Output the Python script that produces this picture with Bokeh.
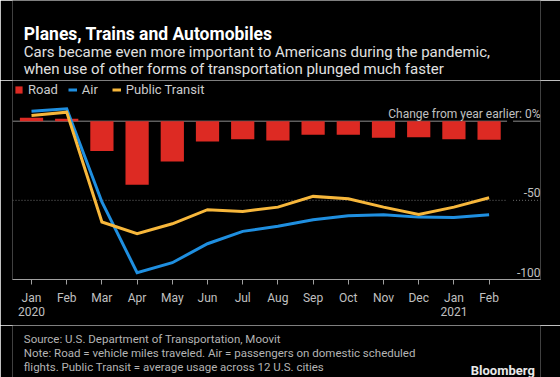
from bokeh.plotting import figure
from bokeh.layouts import column
from bokeh.models import Range1d, FixedTicker, Label, Legend, LegendItem, ColumnDataSource
from bokeh.embed import file_html
from bokeh.resources import INLINE

# ---- data ----
months = ["Jan", "Feb", "Mar", "Apr", "May", "Jun", "Jul", "Aug", "Sep", "Oct", "Nov", "Dec", "Jan", "Feb"]
year_labels = {0: "2020", 12: "2021"}
road = [2.1, 1.5, -18.9, -40.2, -25.4, -12.8, -11.4, -12.2, -8.6, -8.6, -10.5, -10.1, -11.4, -11.8]
air = [6.3, 7.8, -51.0, -95.7, -89.4, -77.4, -69.6, -66.4, -62.2, -59.7, -59.1, -60.6, -60.8, -59.1]
transit = [3.6, 5.7, -63.7, -71.1, -64.8, -55.9, -57.0, -54.3, -47.5, -49.0, -54.3, -58.9, -54.3, -48.4]
y_ticks = [0, -50, -100]
y_tick_text = {0: "Change from year earlier: 0%", -50: "-50", -100: "-100"}

# ---- styles ----
FONT = "Roboto"
RED = "#dd2a23"
BLUE = "#1f8fe0"
YELLOW = "#f7b73b"
BG = "#000000"
W = 560
TOP_H = 80      # header strip
MAIN_H = 245    # chart strip (canvas y 80..325)
BOT_H = 52      # footer strip (canvas y 325..377)

idx = list(range(len(months)))
src = ColumnDataSource(dict(x=idx, road=road, air=air, transit=transit))


def strip(h):
    f = figure(width=W, height=h, x_range=Range1d(0, W), y_range=Range1d(h, 0),
               output_backend="svg", toolbar_location=None, title=None, min_border=0,
               x_axis_location=None, y_axis_location=None,
               background_fill_color=BG, border_fill_color=BG, outline_line_color=None)
    f.grid.visible = False
    return f


def txt(fig, y0, text, px, py, size, color, style="normal", align="left"):
    fig.add_layout(Label(x=px, y=py - y0, text=text, text_align=align, text_baseline="alphabetic",
                         text_font=FONT, text_font_size=size, text_color=color,
                         text_font_style=style))


# ---- header ----
top = strip(TOP_H)
txt(top, 0, "Planes, Trains and Automobiles", 12, 33.3, "17.5px", "#ffffff", "bold")
txt(top, 0, "Cars became even more important to Americans during the pandemic,", 12, 51.7, "15px", "#e0e0e0")
txt(top, 0, "when use of other forms of transportation plunged much faster", 12, 68.3, "15px", "#e0e0e0")

# ---- main chart ----
X0, X1 = -0.54, 14.46
p = figure(width=W, height=MAIN_H, x_range=Range1d(X0, X1), y_range=Range1d(-100, 25.7),
           output_backend="svg", toolbar_location=None, title=None,
           min_border_left=12, min_border_right=20, min_border_top=0, min_border_bottom=46,
           background_fill_color=BG, border_fill_color=BG, outline_line_color=None,
           y_axis_location=None)
p.grid.visible = False

GAP0, GAP1 = 13.51, 13.68
p.segment(x0=[X0, GAP1], x1=[GAP0, X1], y0=[0, 0], y1=[0, 0], line_color="#8c8c8c", line_width=1)
p.segment(x0=[X0, GAP1], x1=[GAP0, X1], y0=[-50, -50], y1=[-50, -50], line_color="#6e6e6e",
          line_width=1, line_dash="1 2")

bars = p.vbar(x="x", top="road", bottom=0, width=0.66, source=src, fill_color=RED, line_color=None)
air_r = p.line("x", "air", source=src, line_color=BLUE, line_width=3, line_join="miter")
tr_r = p.line("x", "transit", source=src, line_color=YELLOW, line_width=3, line_join="miter")

ax = p.xaxis[0]
ax.ticker = FixedTicker(ticks=idx)
ax.major_label_overrides = {i: (m + "\n" + year_labels[i] if i in year_labels else m) for i, m in enumerate(months)}
ax.minor_tick_line_color = None
ax.axis_line_color = "#a0a0a0"
ax.major_tick_line_color = "#a0a0a0"
ax.major_tick_in = 0
ax.major_tick_out = 5
ax.major_label_standoff = 6
ax.major_label_text_font = FONT
ax.major_label_text_font_size = "12px"
ax.major_label_text_color = "#c0c0c0"
ax.major_label_text_line_height = 1.05

for v in y_ticks:
    p.add_layout(Label(x=528, x_units="screen", y=v, y_units="data", y_offset=7.5,
                       text=y_tick_text[v], text_align="right", text_baseline="alphabetic",
                       text_font=FONT, text_font_size="12px", text_color="#c0c0c0"))

legend = Legend(items=[LegendItem(label="Road", renderers=[bars]),
                       LegendItem(label="Air", renderers=[air_r]),
                       LegendItem(label="Public Transit", renderers=[tr_r])],
                orientation="horizontal", location=(2, 182.5), background_fill_alpha=0,
                border_line_color=None, padding=0, margin=0, spacing=10, label_standoff=5,
                glyph_width=9, glyph_height=9, label_height=13,
                label_text_font=FONT, label_text_font_size="13px", label_text_color="#cccccc")
p.add_layout(legend)

# ---- footer ----
bot = strip(BOT_H)
Y0 = TOP_H + MAIN_H
txt(bot, Y0, "Source: U.S. Department of Transportation, Moovit", 12, 338.5, "11.5px", "#b4b4b4")
txt(bot, Y0, "Note: Road = vehicle miles traveled. Air = passengers on domestic scheduled", 12, 352.5, "11.5px", "#b4b4b4")
txt(bot, Y0, "flights. Public Transit = average usage across 12 U.S. cities", 12, 366, "11.5px", "#b4b4b4")
txt(bot, Y0, "Bloomberg", 486, 370, "13px", "#e8e8e8", "bold", "left")

layout = column(top, p, bot, spacing=0)
open("out.html", "w").write(file_html(layout, INLINE))
